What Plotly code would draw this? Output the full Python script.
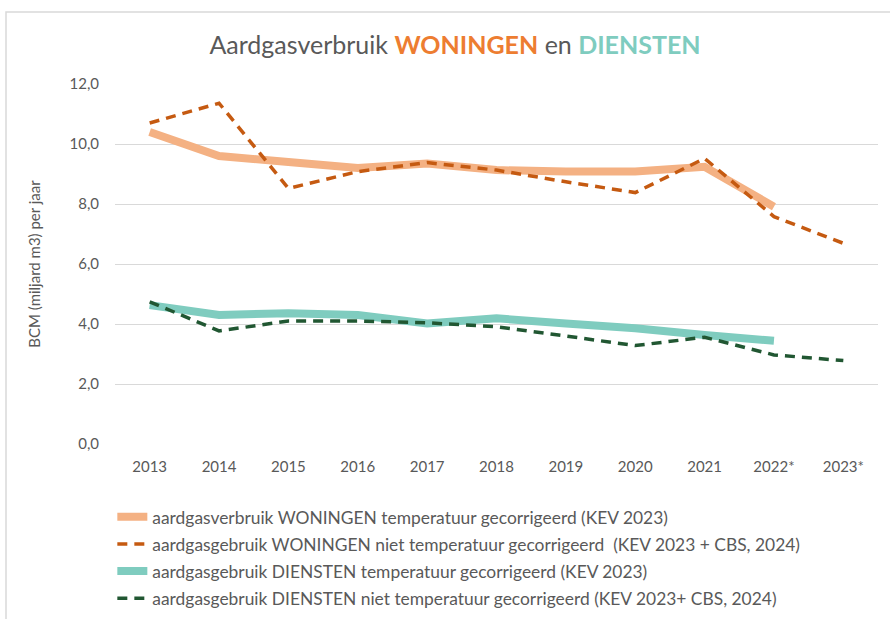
import plotly.graph_objects as go

years = ["2013", "2014", "2015", "2016", "2017", "2018", "2019", "2020", "2021", "2022*", "2023*"]
woningen_corr = [10.4, 9.6, 9.4, 9.2, 9.35, 9.13, 9.08, 9.08, 9.24, 7.91, None]
woningen_raw = [10.7, 11.36, 8.52, 9.08, 9.38, 9.13, 8.74, 8.38, 9.52, 7.58, 6.69]
diensten_corr = [4.63, 4.3, 4.36, 4.3, 4.02, 4.19, 4.02, 3.86, 3.63, 3.44, None]
diensten_raw = [4.74, 3.77, 4.1, 4.1, 4.04, 3.91, 3.6, 3.28, 3.56, 2.97, 2.78]

names = [
    "aardgasverbruik WONINGEN temperatuur gecorrigeerd (KEV 2023)",
    "aardgasgebruik WONINGEN niet temperatuur gecorrigeerd  (KEV 2023 + CBS, 2024)",
    "aardgasgebruik DIENSTEN temperatuur gecorrigeerd (KEV 2023)",
    "aardgasgebruik DIENSTEN niet temperatuur gecorrigeerd (KEV 2023+ CBS, 2024)",
]

FONT = "Lato"
fig = go.Figure()
series = [
    (woningen_corr, "#F4B183", 8, "solid"),
    (woningen_raw, "#C55A11", 3.5, "10px,7px"),
    (diensten_corr, "#7FCCBF", 8, "solid"),
    (diensten_raw, "#215732", 3.5, "10px,7px"),
]
for i, (vals, col, w, dash) in enumerate(series):
    fig.add_trace(go.Scatter(
        x=years, y=vals, mode="lines", name=names[i], legendgroup=str(i),
        line=dict(color=col, width=w, dash=dash), connectgaps=False,
    ))

fig.update_layout(
    width=890, height=619,
    paper_bgcolor="white", plot_bgcolor="white",
    separators=",.",
    margin=dict(l=115, r=12, t=84, b=175),
    font=dict(family=FONT, color="#595959", size=15),
    title=dict(
        text="Aardgasverbruik <b><span style='color:#ED7D31'>WONINGEN</span></b> en <b><span style='color:#7FCCBF'>DIENSTEN</span></b>",
        x=455 / 890, xref="container", xanchor="center", y=1 - 45 / 619, yanchor="middle",
        font=dict(family=FONT, size=25, color="#595959"),
    ),
    xaxis=dict(
        type="category", range=[-0.5, 10.5], showgrid=False, showline=False,
        ticks="outside", ticklen=9, tickcolor="white",
        tickfont=dict(size=15, color="#595959"),
    ),
    yaxis=dict(
        range=[0, 12], dtick=2, tickformat=".1f",
        gridcolor="#D9D9D9", gridwidth=1, zeroline=False, showline=False,
        tickfont=dict(size=15, color="#595959"), ticks="outside", ticklen=12, tickcolor="white",
        title=dict(text="BCM (miljard m3) per jaar", font=dict(size=15, color="#595959"), standoff=25),
    ),
    showlegend=True,
    legend=dict(
        orientation="v", xref="paper", yref="container",
        x=-0.0035, xanchor="left", y=(619 - 499) / 619, yanchor="top",
        font=dict(size=17.4, color="#595959"), tracegroupgap=1.5,
        bgcolor="rgba(0,0,0,0)",
    ),
    shapes=[dict(type="rect", xref="paper", yref="paper",
                 x0=-109 / 763, x1=1.05, y0=-0.6, y1=1 + 72 / 360,
                 line=dict(color="#D9D9D9", width=1.5), layer="below")],
)

fig.write_html("out.html", post_script="document.body.style.margin='0px';",
               config={"displayModeBar": False})
